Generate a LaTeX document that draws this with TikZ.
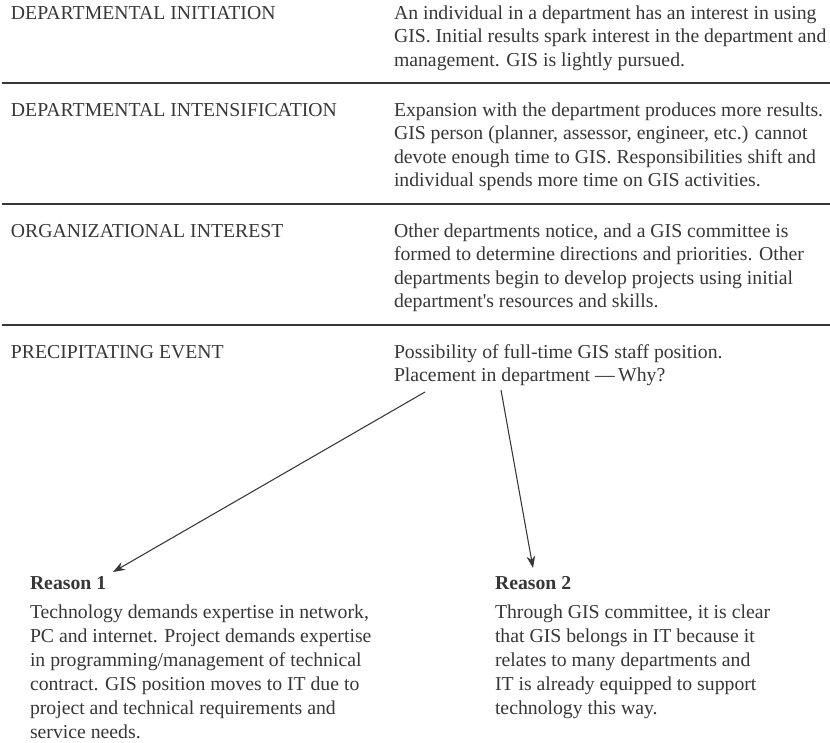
\documentclass[tikz,border=0pt]{standalone}
\usepackage{fontspec}
\setmainfont{Liberation Serif}
\usetikzlibrary{arrows.meta}
\definecolor{ink}{RGB}{55,55,55}
\begin{document}
\begin{tikzpicture}[x=0.75pt,y=-0.75pt,
  every node/.style={inner sep=0pt, outer sep=0pt, text=ink},
  bodytext/.style={anchor=north west, align=left, font=\fontsize{14.8}{17.5}\selectfont},
  stagelabel/.style={anchor=base west, font=\fontsize{14.8}{17.5}\selectfont},
  reasonhead/.style={anchor=base west, font=\fontsize{14.8}{18}\selectfont\bfseries},
  reasonbody/.style={anchor=north west, align=left, font=\fontsize{14.8}{18}\selectfont},
  rulel/.style={draw=ink, line width=1pt},
  conn/.style={draw=ink, line width=0.8pt, -{Stealth[length=9pt,width=6.5pt]}}]
\useasboundingbox (0,0) rectangle (830,742);

% stage labels
\node[stagelabel] (l1) at (11,19.5) {DEPARTMENTAL INITIATION};
\node[stagelabel] (l2) at (11,116.5) {DEPARTMENTAL INTENSIFICATION};
\node[stagelabel] (l3) at (11,237.5) {ORGANIZATIONAL INTEREST};
\node[stagelabel] (l4) at (11,358.5) {PRECIPITATING EVENT};

% descriptions
\node[bodytext] (d1) at (394,3.2) {\strut An individual in a department has an interest in using\\
GIS. Initial results spark interest in the department and\\
management. GIS is lightly pursued.};
\node[bodytext] (d2) at (394,100.2) {\strut Expansion with the department produces more results.\\
GIS person (planner, assessor, engineer, etc.) cannot\\
devote enough time to GIS. Responsibilities shift and\\
individual spends more time on GIS activities.};
\node[bodytext] (d3) at (394,221.2) {\strut Other departments notice, and a GIS committee is\\
formed to determine directions and priorities. Other\\
departments begin to develop projects using initial\\
department\textquotesingle s resources and skills.};
\node[bodytext] (d4) at (394,342.2) {\strut Possibility of full-time GIS staff position.\\
Placement in department\ ---\,Why?};

% rules
\coordinate (r1a) at (2,83);  \coordinate (r1b) at (830,83);
\coordinate (r2a) at (2,204); \coordinate (r2b) at (830,204);
\coordinate (r3a) at (2,325); \coordinate (r3b) at (830,325);
\draw[rulel] (r1a) -- (r1b);
\draw[rulel] (r2a) -- (r2b);
\draw[rulel] (r3a) -- (r3b);

% reasons
\node[reasonhead] (h1) at (30,589) {Reason 1};
\node[reasonhead] (h2) at (495,589) {Reason 2};
\node[reasonbody] (b1) at (30,601.7) {\strut Technology demands expertise in network,\\
PC and internet. Project demands expertise\\
in programming/management of technical\\
contract. GIS position moves to IT due to\\
project and technical requirements and\\
service needs.};
\node[reasonbody] (b2) at (495,601.7) {\strut Through GIS committee, it is clear\\
that GIS belongs in IT because it\\
relates to many departments and\\
IT is already equipped to support\\
technology this way.};

% connectors
\coordinate (s1) at (425,392);
\coordinate (e1) at (113,572);
\coordinate (s2) at (501,390);
\coordinate (e2) at (533,568);
\draw[conn] (s1) -- (e1);
\draw[conn] (s2) -- (e2);
\end{tikzpicture}
\end{document}
